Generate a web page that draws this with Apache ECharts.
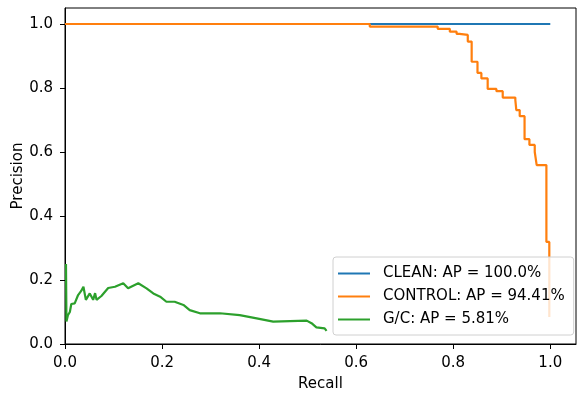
<!DOCTYPE html>
<html>
<head>
<meta charset="utf-8">
<script src="https://cdn.jsdelivr.net/npm/echarts@6/dist/echarts.min.js"></script>
<style>html,body{margin:0;padding:0;background:#fff;}#chart{width:579px;height:398px;}</style>
</head>
<body>
<div id="chart"></div>
<script>
const xTicks = [0, 0.2, 0.4, 0.6, 0.8, 1.0];
const yTicks = [0, 0.2, 0.4, 0.6, 0.8, 1.0];
const seriesNames = ['CLEAN: AP = 100.0%', 'CONTROL: AP = 94.41%', 'G/C: AP = 5.81%'];
// CLEAN precision-recall points [recall, precision]
const cleanPR = [[0, 1.0], [1.0, 1.0]];
// CONTROL points: each point starts a new precision level (step)
const controlPR = [
  [0, 1.0], [0.628, 0.992], [0.768, 0.985], [0.793, 0.976], [0.807, 0.969],
  [0.813, 0.966], [0.830, 0.945], [0.838, 0.882], [0.850, 0.847], [0.858, 0.830],
  [0.871, 0.797], [0.889, 0.790], [0.902, 0.770], [0.928, 0.762], [0.930, 0.731],
  [0.937, 0.712], [0.947, 0.640], [0.957, 0.622], [0.968, 0.600], [0.972, 0.559],
  [0.992, 0.319], [0.998, 0.084]
];
// G/C points [recall, precision]
const gcPR = [
  [0.002, 0.25], [0.003, 0.07], [0.006, 0.09], [0.010, 0.100], [0.013, 0.125],
  [0.020, 0.127], [0.027, 0.153], [0.033, 0.165], [0.038, 0.179], [0.043, 0.138],
  [0.051, 0.158], [0.058, 0.138], [0.062, 0.159], [0.065, 0.138], [0.075, 0.150],
  [0.089, 0.175], [0.103, 0.179], [0.120, 0.190], [0.130, 0.174], [0.151, 0.190],
  [0.168, 0.174], [0.182, 0.158], [0.196, 0.148], [0.209, 0.132], [0.226, 0.132],
  [0.244, 0.122], [0.257, 0.106], [0.278, 0.096], [0.319, 0.096], [0.360, 0.090],
  [0.395, 0.080], [0.429, 0.070], [0.498, 0.073], [0.508, 0.065], [0.518, 0.052],
  [0.535, 0.049], [0.539, 0.041]
];
const colors = ['#1f77b4', '#ff7f0e', '#2ca02c'];
const font = 'DejaVu Sans';
const fs = 15;

const chart = echarts.init(document.getElementById('chart'));
chart.setOption({
  animation: false,
  grid: {left: 65, right: 3, top: 8, bottom: 54, show: true, borderColor: '#000', borderWidth: 1, backgroundColor: 'transparent', containLabel: false, outerBoundsMode: 'none'},
  xAxis: {
    type: 'value', min: 0, max: 1.053,
    name: 'Recall', nameLocation: 'middle', nameGap: 33, nameMoveOverlap: false,
    nameTextStyle: {fontFamily: font, fontSize: fs, color: '#000'},
    axisLine: {show: true, lineStyle: {color: '#000', width: 1}},
    axisTick: {show: true, inside: false, length: 5, lineStyle: {color: '#000'}, customValues: xTicks},
    axisLabel: {margin: 12, fontFamily: font, fontSize: fs, color: '#000', customValues: xTicks, formatter: v => v.toFixed(1)},
    splitLine: {show: false}
  },
  yAxis: {
    type: 'value', min: 0, max: 1.05,
    name: 'Precision', nameLocation: 'middle', nameGap: 39, nameMoveOverlap: false,
    nameTextStyle: {fontFamily: font, fontSize: fs, color: '#000'},
    axisLine: {show: true, lineStyle: {color: '#000', width: 1}},
    axisTick: {show: true, inside: false, length: 5, lineStyle: {color: '#000'}, customValues: yTicks},
    axisLabel: {margin: 12, fontFamily: font, fontSize: fs, color: '#000', customValues: yTicks, formatter: v => v.toFixed(1)},
    splitLine: {show: false}
  },
  legend: {
    orient: 'vertical', left: 333, top: 257,
    padding: [8, 9, 7, 5], itemGap: 6,
    itemWidth: 32, itemHeight: 2,
    icon: 'rect',
    backgroundColor: 'rgba(255,255,255,0.8)', borderColor: '#d0d0d0', borderWidth: 1, borderRadius: 3,
    textStyle: {fontFamily: font, fontSize: fs, color: '#000', padding: [0, 0, 0, 8], lineHeight: 17},
    data: seriesNames
  },
  series: [
    {name: seriesNames[0], type: 'line', data: cleanPR, showSymbol: false, lineStyle: {color: colors[0], width: 2.2}, itemStyle: {color: colors[0]}},
    {name: seriesNames[1], type: 'line', data: controlPR, step: 'end', showSymbol: false, lineStyle: {color: colors[1], width: 2.2}, itemStyle: {color: colors[1]}},
    {name: seriesNames[2], type: 'line', data: gcPR, showSymbol: false, lineStyle: {color: colors[2], width: 2.2}, itemStyle: {color: colors[2]}}
  ]
});
</script>
</body>
</html>
